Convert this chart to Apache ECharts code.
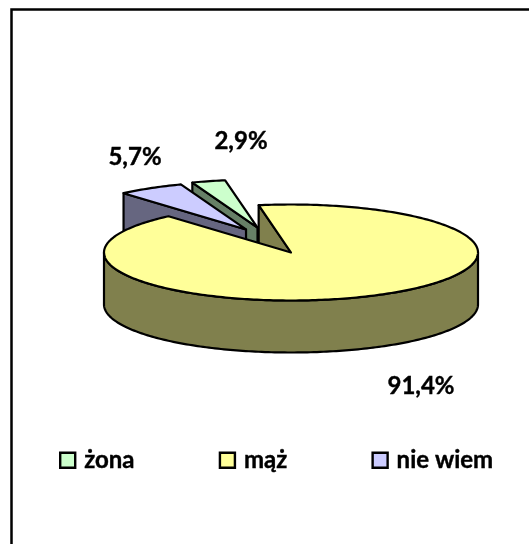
<!DOCTYPE html>
<html>
<head>
<meta charset="utf-8">
<style>html,body{margin:0;padding:0;background:#fff}#c{width:529px;height:544px}</style>
<script src="https://cdn.jsdelivr.net/npm/echarts@6/dist/echarts.min.js"></script>
</head>
<body>
<div id="c"></div>
<script>
// --- data ---
const categories = ['żona', 'mąż', 'nie wiem'];
const values = [2.9, 91.4, 5.7];

// --- styles / layout ---
const topColors = ['#CCFFCC', '#FFFF99', '#CCCCFF'];
const wallColors = ['#668066', '#80804D', '#666680'];
const FONT = 'Lato';
const FONT_SIZE = 24;
const CX = 291, CY = 252.5, RX = 187, RY = 48, DEPTH = 52, START_ANGLE = -20.4;
// explosion: [distance as a share of the radius, direction in degrees clockwise from 12 o'clock]
const explode = [[0.55, -19], [0, 0], [0.537, -26.6]];
const labelPos = [[241, 141], [421, 386], [135, 157]];
const zOf = [2, 4, 3]; // żona, then nie wiem, then mąż on top

const total = values.reduce((a, b) => a + b, 0);
const fmt = v => v.toFixed(1).replace('.', ',') + '%';

function rad(d) { return d * Math.PI / 180; }
function pt(cx, cy, a) { return [cx + RX * Math.sin(rad(a)), cy - RY * Math.cos(rad(a))]; }

function makeRender(idx) {
  return function (params, api) {
    const v = api.value(0);
    let a0 = START_ANGLE;
    for (let i = 0; i < idx; i++) a0 += values[i] / total * 360;
    const a1 = a0 + v / total * 360;
    const ex = explode[idx];
    const cx = CX + RX * ex[0] * Math.sin(rad(ex[1]));
    const cy = CY - RY * ex[0] * Math.cos(rad(ex[1]));
    const style = fill => ({ fill, stroke: '#000', lineWidth: 2.2, lineJoin: 'round' });
    const children = [];

    // wall along the slice's starting edge
    const outer = pt(cx, cy, a0);
    children.push({
      type: 'polygon',
      shape: { points: [[cx, cy], outer, [outer[0], outer[1] + DEPTH], [cx, cy + DEPTH]] },
      style: style(wallColors[idx])
    });

    // visible front rim (90..270 degrees, clockwise from the top)
    const from = Math.max(a0, 90), to = Math.min(a1, 270);
    if (to > from) {
      const up = [], down = [];
      for (let a = from; a <= to; a += 1) {
        const p = pt(cx, cy, a);
        up.push(p);
        down.unshift([p[0], p[1] + DEPTH]);
      }
      children.push({ type: 'polygon', shape: { points: up.concat(down) }, style: style(wallColors[idx]) });
    }

    // top surface
    const topPts = [[cx, cy]];
    const steps = Math.ceil(a1 - a0);
    for (let s = 0; s <= steps; s++) topPts.push(pt(cx, cy, a0 + (a1 - a0) * s / steps));
    children.push({ type: 'polygon', shape: { points: topPts }, style: style(topColors[idx]) });

    // value label
    children.push({
      type: 'text',
      style: {
        text: fmt(v), x: labelPos[idx][0], y: labelPos[idx][1],
        align: 'center', verticalAlign: 'middle',
        font: 'bold ' + FONT_SIZE + 'px ' + FONT, fill: '#000',
        stroke: '#000', lineWidth: 0.4
      }
    });
    return { type: 'group', children };
  };
}

const chart = echarts.init(document.getElementById('c'), null, { renderer: 'canvas' });
chart.setOption({
  animation: false,
  backgroundColor: '#fff',
  graphic: [{
    type: 'polyline',
    shape: { points: [[11.5, 544], [11.5, 9.5], [529, 9.5]] },
    style: { stroke: '#000', lineWidth: 2.5, fill: null },
    silent: true
  }],
  legend: {
    left: 59, top: 448, padding: 0,
    itemWidth: 15, itemHeight: 15, itemGap: 84,
    selectedMode: false,
    icon: 'rect',
    textStyle: {
      fontFamily: FONT, fontWeight: 'bold', fontSize: FONT_SIZE, color: '#000',
      padding: [0, 0, 0, 4], textBorderColor: '#000', textBorderWidth: 0.4
    },
    data: categories.map((name, i) => ({
      name,
      itemStyle: { color: topColors[i], borderColor: '#000', borderWidth: 2.4 }
    }))
  },
  series: categories.map((name, i) => ({
    type: 'custom',
    name,
    coordinateSystem: 'none',
    z: zOf[i],
    silent: true,
    itemStyle: { color: topColors[i] },
    data: [[values[i]]],
    renderItem: makeRender(i)
  }))
});
</script>
</body>
</html>
